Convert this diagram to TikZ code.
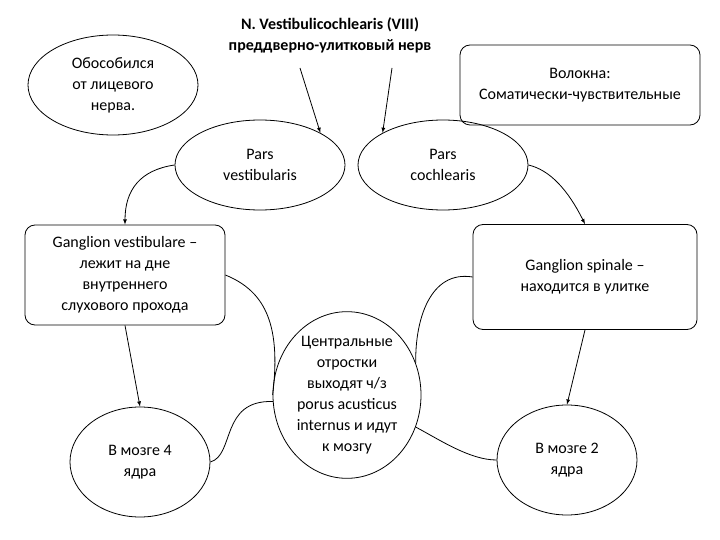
\documentclass[tikz,border=0pt]{standalone}
\usepackage{fontspec}
\setmainfont{Carlito}
\usetikzlibrary{arrows,shapes.geometric}
\tikzstyle{oval} = [draw, thick, ellipse, align=center, inner sep=0pt]
\tikzstyle{block} = [draw, thick, rectangle, rounded corners=10pt, align=center]
\tikzstyle{link} = [thick, ->, >=latex]
\begin{document}
\begin{tikzpicture}[x=1pt, y=-1pt, font=\fontsize{16}{21}\selectfont]
    \useasboundingbox (0,0) rectangle (720,540);

    \node [align=center, font=\fontsize{16}{21}\selectfont\bfseries, name = title] at (330,35)
        {N. Vestibulicochlearis (VIII)\\преддверно-улитковый нерв};
    \node [oval, minimum width=170pt, minimum height=100pt, name = sep] at (113,85)
        {Обособился\\от лицевого\\нерва.};
    \node [block, minimum width=240pt, minimum height=80pt, name = fib] at (580,85)
        {Волокна:\\Соматически-чувствительные};

    \node [oval, minimum width=170pt, minimum height=90pt, name = vest] at (260,165) {Pars\\vestibularis};
    \node [oval, minimum width=170pt, minimum height=90pt, name = coch] at (443,165) {Pars\\cochlearis};

    \node [block, minimum width=200pt, minimum height=100pt, name = gv] at (125,275)
        {Ganglion vestibulare –\\лежит на дне\\внутреннего\\слухового прохода};
    \node [block, minimum width=224pt, minimum height=105pt, name = gs] at (585,277)
        {Ganglion spinale –\\находится в улитке};

    \node [oval, minimum width=148pt, minimum height=150pt, name = cen] at (347,395)
        {Центральные\\отростки\\выходят ч/з\\porus acusticus\\internus и идут\\к мозгу};

    \node [oval, minimum width=140pt, minimum height=110pt, name = b4] at (140,462) {В мозге 4\\ядра};
    \node [oval, minimum width=140pt, minimum height=110pt, name = b2] at (567,460) {В мозге 2\\ядра};

    \draw [link] (300,68) -- (vest.north east);
    \draw [link] (392,68) -- (coch.north west);
    \draw [link] (vest.west) .. controls (140,170) and (125,190) .. (gv.north);
    \draw [link] (coch.east) .. controls (550,170) and (568,190) .. (gs.north);
    \draw [link] (gv.south) -- (b4.north);
    \draw [link] (gs.south) -- (b2.north);
    \draw [thick] (gv.east) .. controls (262,290) and (282,320) .. (cen.west);
    \draw [thick] (b4.east) .. controls (235,455) and (220,400) .. (cen.185);
    \draw [thick] (cen.25) .. controls (415,320) and (430,270) .. (gs.west);
    \draw [thick] (cen.-25) .. controls (440,440) and (470,460) .. (b2.west);
\end{tikzpicture}
\end{document}
